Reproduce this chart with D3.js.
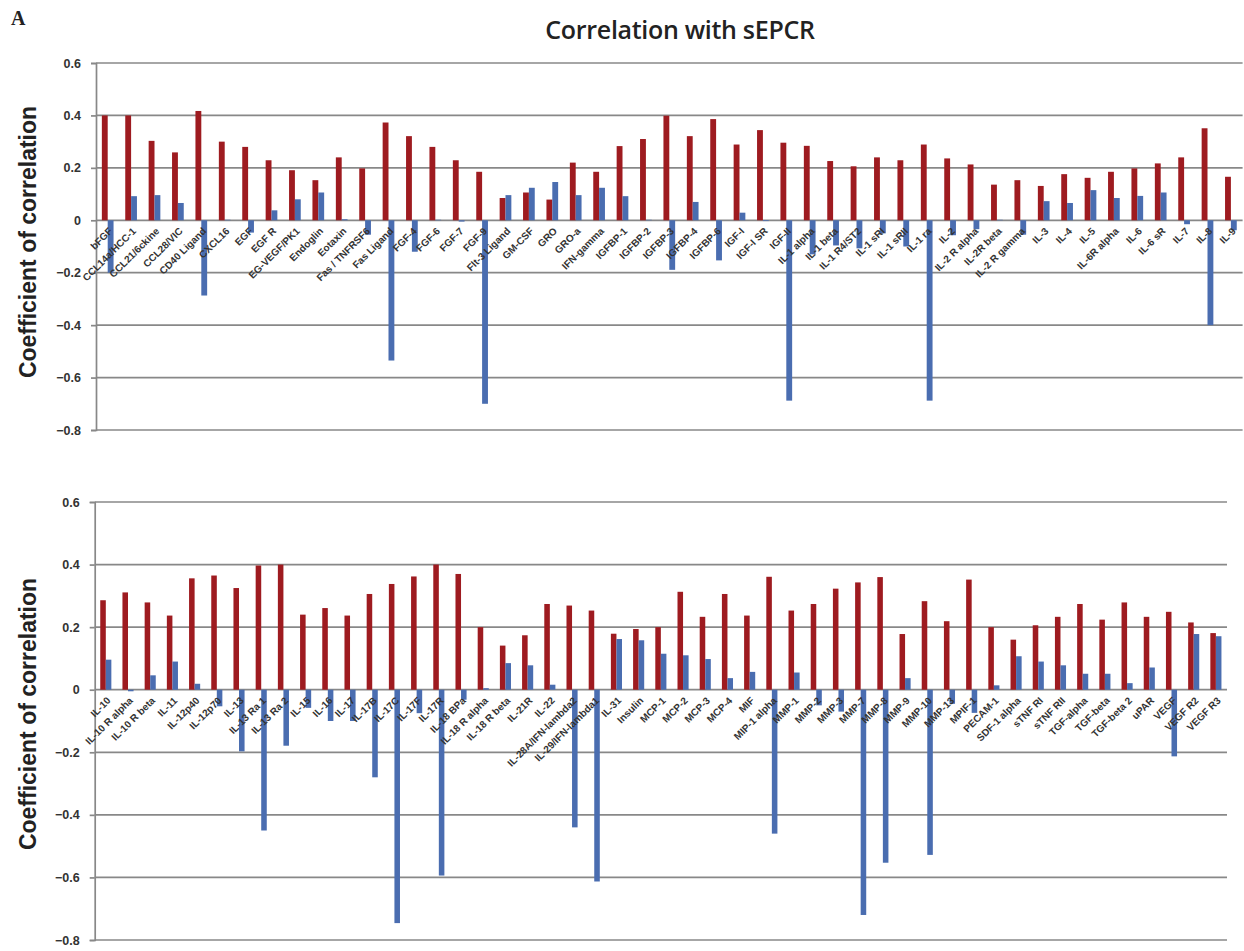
<!DOCTYPE html>
<html><head><meta charset="utf-8">
<script src="https://cdn.jsdelivr.net/npm/d3@7"></script>
<style>body{margin:0;background:#fff}</style>
</head><body>
<svg id="chart" width="1244" height="951"></svg>
<script>
const topCategories = ["bFGF","CCL14a/HCC-1","CCL21/6ckine","CCL28/VIC","CD40 Ligand","CXCL16","EGF","EGF R","EG-VEGF/PK1","Endoglin","Eotaxin","Fas / TNFRSF6","Fas Ligand","FGF-4","FGF-6","FGF-7","FGF-9","Flt-3 Ligand","GM-CSF","GRO","GRO-a","IFN-gamma","IGFBP-1","IGFBP-2","IGFBP-3","IGFBP-4","IGFBP-6","IGF-I","IGF-I SR","IGF-II","IL-1 alpha","IL-1 beta","IL-1 R4/ST2","IL-1 sRI","IL-1 sRII","IL-1 ra","IL-2","IL-2 R alpha","IL-2R beta","IL-2 R gamma","IL-3","IL-4","IL-5","IL-6R alpha","IL-6","IL-6 sR","IL-7","IL-8","IL-9"];
const topRed = [0.40,0.40,0.303,0.259,0.417,0.30,0.28,0.229,0.191,0.153,0.24,0.198,0.373,0.321,0.28,0.229,0.185,0.085,0.106,0.079,0.22,0.185,0.283,0.31,0.399,0.321,0.386,0.289,0.344,0.296,0.284,0.226,0.206,0.24,0.229,0.289,0.236,0.213,0.136,0.153,0.131,0.176,0.162,0.185,0.198,0.217,0.24,0.351,0.166];
const topBlue = [-0.20,0.092,0.096,0.066,-0.287,0.002,-0.047,0.038,0.08,0.106,0.004,-0.055,-0.535,-0.12,0.002,-0.005,-0.70,0.096,0.124,0.146,0.096,0.124,0.092,0.002,-0.189,0.07,-0.153,0.029,-0.003,-0.688,-0.13,-0.096,-0.107,-0.05,-0.10,-0.688,-0.057,-0.034,0.002,-0.055,0.073,0.066,0.115,0.085,0.093,0.106,-0.015,-0.40,-0.038];

const bottomCategories = ["IL-10","IL-10 R alpha","IL-10 R beta","IL-11","IL-12p40","IL-12p70","IL-13","IL-13 Ra 1","IL-13 Ra 2","IL-15","IL-16","IL-17","IL-17B","IL-17C","IL-17F","IL-17R","IL-18 BPa","IL-18 R alpha","IL-18 R beta","IL-21R","IL-22","IL-28A/IFN-lambda2","IL-29/IFN-lambda1","IL-31","Insulin","MCP-1","MCP-2","MCP-3","MCP-4","MIF","MIP-1 alpha","MMP-1","MMP-2","MMP-3","MMP-7","MMP-8","MMP-9","MMP-10","MMP-13","MPIF-1","PECAM-1","SDF-1 alpha","sTNF RI","sTNF RII","TGF-alpha","TGF-beta","TGF-beta 2","uPAR","VEGF","VEGF R2","VEGF R3"];
const bottomRed = [0.286,0.311,0.279,0.237,0.356,0.365,0.325,0.397,0.40,0.24,0.261,0.237,0.306,0.338,0.362,0.40,0.37,0.20,0.141,0.174,0.274,0.269,0.253,0.179,0.194,0.20,0.313,0.233,0.306,0.237,0.361,0.253,0.274,0.323,0.343,0.36,0.178,0.283,0.219,0.352,0.20,0.16,0.206,0.233,0.274,0.224,0.279,0.233,0.249,0.215,0.181];
const bottomBlue = [0.096,-0.005,0.046,0.09,0.019,-0.053,-0.197,-0.45,-0.179,-0.058,-0.10,-0.10,-0.28,-0.746,-0.075,-0.594,-0.032,0.005,0.085,0.078,0.016,-0.44,-0.613,0.162,0.158,0.115,0.11,0.098,0.037,0.057,-0.46,0.055,-0.05,-0.07,-0.72,-0.553,0.037,-0.528,-0.045,-0.074,0.014,0.107,0.09,0.078,0.051,0.051,0.021,0.071,-0.213,0.178,0.171];

const yTicks = [0.6,0.4,0.2,0,-0.2,-0.4,-0.6,-0.8];
const titleText = "Correlation with sEPCR";
const yTitle = "Coefficient of correlation";

const RED = "#9e1b20", BLUE = "#4a6db0", GRID = "#888888";
const svg = d3.select("#chart");

svg.append("text").attr("x",11).attr("y",25).attr("font-family","Liberation Serif, serif")
  .attr("font-weight","bold").attr("font-size",20).attr("fill","#222").text("A");
svg.append("text").attr("x",680).attr("y",39).attr("text-anchor","middle")
  .attr("font-family","Open Sans, sans-serif").attr("font-weight","600").attr("font-size",25)
  .attr("letter-spacing", -0.3).attr("fill","#222").text(titleText);

function panel(cats, red, blue, x0, x1, yTop, yBot, labelCy) {
  const x = d3.scaleBand().domain(cats).range([x0, x1]).paddingInner(0).paddingOuter(0);
  const y = d3.scaleLinear().domain([-0.8, 0.6]).range([yBot, yTop]);
  const g = svg.append("g");
  g.selectAll("line.grid").data(yTicks).join("line")
    .attr("x1", x0).attr("x2", x1).attr("y1", d => y(d)).attr("y2", d => y(d))
    .attr("stroke", GRID).attr("stroke-width", 1.7);
  const ax = g.append("g").attr("transform", `translate(${x0},0)`)
    .call(d3.axisLeft(y).tickValues(yTicks).tickSize(5).tickPadding(10).tickFormat(d => d === 0 ? "0" : d3.format(".1f")(d)));
  ax.select(".domain").attr("stroke", GRID).attr("stroke-width", 1.7);
  ax.selectAll(".tick line").attr("stroke", GRID).attr("stroke-width", 1.7);
  ax.selectAll(".tick text").attr("font-family","Liberation Sans, Arial, sans-serif")
    .attr("font-weight","bold").attr("font-size",12.5).attr("fill","#333");
  const bw = x.bandwidth();
  g.selectAll("rect.red").data(cats).join("rect")
    .attr("x", (d) => x(d) + bw * 0.25).attr("width", bw * 0.25)
    .attr("y", (d, i) => y(Math.max(0, red[i]))).attr("height", (d, i) => Math.abs(y(red[i]) - y(0)))
    .attr("fill", RED);
  g.selectAll("rect.blue").data(cats).join("rect")
    .attr("x", (d) => x(d) + bw * 0.5).attr("width", bw * 0.25)
    .attr("y", (d, i) => y(Math.max(0, blue[i]))).attr("height", (d, i) => Math.abs(y(blue[i]) - y(0)))
    .attr("fill", BLUE);
  g.selectAll("text.cat").data(cats).join("text")
    .attr("transform", d => `translate(${x(d) + bw / 2 + 3},${y(0) + 9}) rotate(-45)`)
    .attr("text-anchor", "end").attr("dy", "0.35em")
    .attr("font-family","Liberation Sans, Arial, sans-serif").attr("font-weight","bold")
    .attr("font-size", 10).attr("fill", "#333").text(d => d);
  svg.append("text").attr("transform", `translate(36,${labelCy}) rotate(-90)`)
    .attr("text-anchor","middle").attr("font-family","Liberation Sans, Arial, sans-serif")
    .attr("font-weight","bold").attr("font-size",23).attr("fill","#222").text(yTitle);
}

panel(topCategories, topRed, topBlue, 96, 1242.6, 63, 430, 242);
panel(bottomCategories, bottomRed, bottomBlue, 94.7, 1227, 502, 940, 714);
</script>
</body></html>
